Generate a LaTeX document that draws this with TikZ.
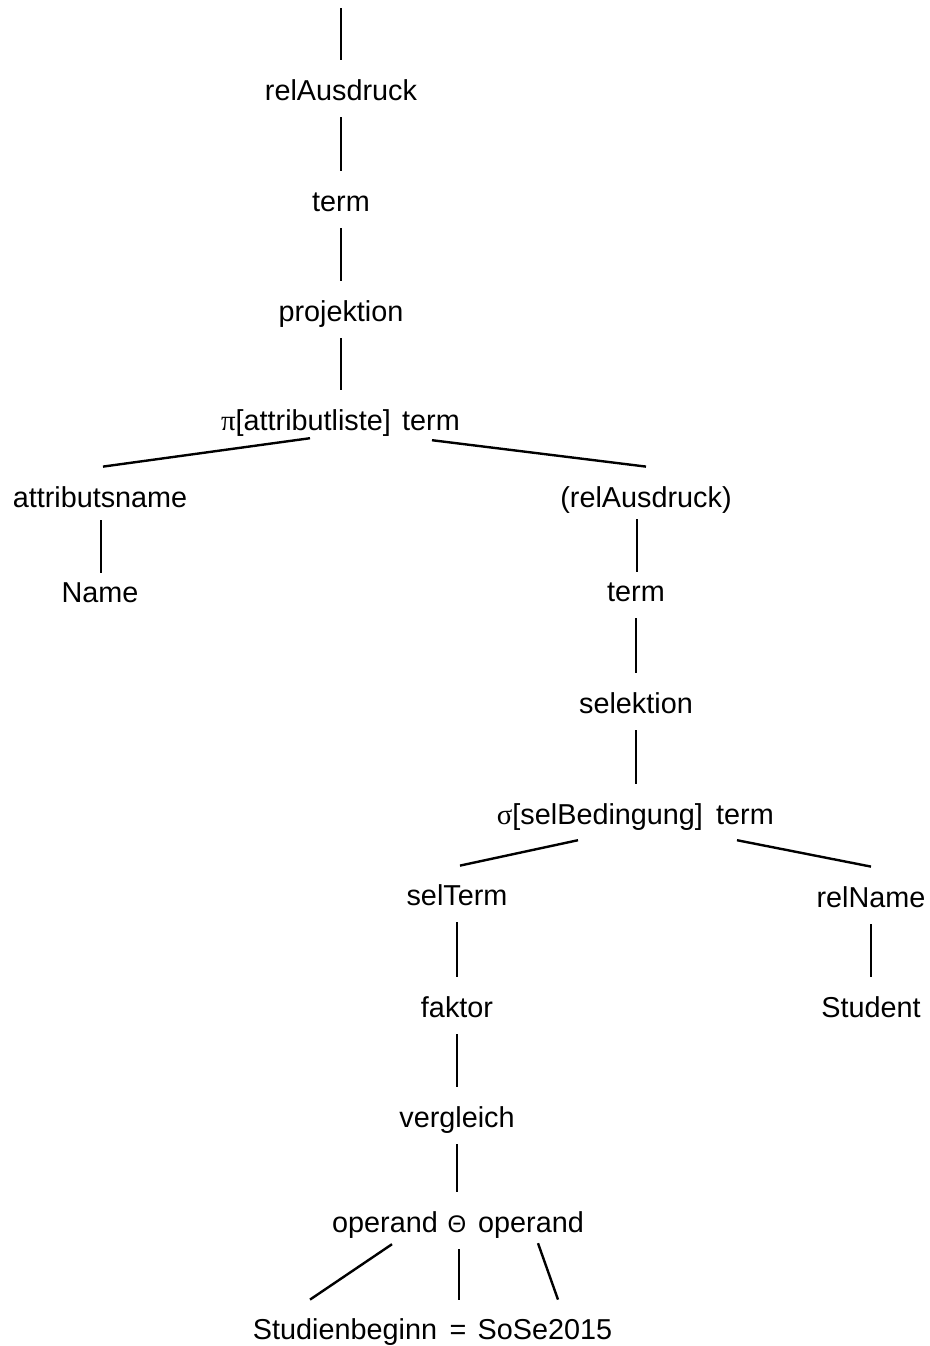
\documentclass[tikz,border=0pt]{standalone}
\usepackage{fontspec}
\setmainfont{Liberation Sans}
\newfontfamily\grk{Liberation Serif}
\usetikzlibrary{calc}
\begin{document}
\begin{tikzpicture}[x=0.5pt, y=-0.5pt,
  lbl/.style={font=\fontsize{14.4}{17}\selectfont, inner xsep=0pt, inner ysep=0pt, outer sep=0pt,
    text height=20.2pt, text depth=8.6pt, anchor=base},
  edge/.style={line width=1.2pt}]
  \useasboundingbox (0,0) rectangle (930,1346);
  % main chain
  \coordinate (root) at (341,8);
  \node[lbl] (ra) at (341,100) {relAusdruck};
  \node[lbl] (t1) at (341,211) {term};
  \node[lbl] (proj) at (341,321) {projektion};
  \node[lbl] (pilist) at (306,430) {{\grk π}[attributliste]};
  \node[lbl] (pterm) at (431,430) {term};
  \draw[edge] (root) -- (ra.north);
  \draw[edge] (ra.south) -- (t1.north);
  \draw[edge] (t1.south) -- (proj.north);
  \draw[edge] (proj.south) -- (proj.south |- pilist.north);
  % left branch
  \node[lbl] (attr) at (100,507) {attributsname};
  \node[lbl] (name) at (100,602) {Name};
  \draw[edge] ($(pilist.south)+(4,-9)$) -- ($(attr.north)+(3,0)$);
  \draw[edge] ($(attr.south)+(1,-4)$) -- ($(name.north)+(1,11)$);
  % right branch
  \node[lbl] (ra2) at (646,507) {(relAusdruck)};
  \node[lbl] (t2) at (636,601) {term};
  \node[lbl] (sel) at (636,713) {selektion};
  \node[lbl] (sig) at (600,824) {{\grk σ}[selBedingung]};
  \node[lbl] (sterm) at (745,824) {term};
  \draw[edge] ($(pterm.south)+(1,-7)$) -- (ra2.north);
  \draw[edge] ($(t2.north |- ra2.south)+(1,-5)$) -- ($(t2.north)+(1,11)$);
  \draw[edge] (t2.south) -- (sel.north);
  \draw[edge] (sel.south) -- (sel.south |- sig.north);
  % selection condition
  \node[lbl] (selt) at (457,905) {selTerm};
  \node[lbl] (fak) at (457,1017) {faktor};
  \node[lbl] (verg) at (457,1127) {vergleich};
  \draw[edge] ($(sig.south)+(-22,-1)$) -- ($(selt.north)+(3,1)$);
  \draw[edge] (selt.south) -- (fak.north);
  \draw[edge] (fak.south) -- (verg.north);
  % relation name
  \node[lbl] (reln) at (871,907) {relName};
  \node[lbl] (stud) at (871,1017) {Student};
  \draw[edge] ($(sterm.south)+(-8,-1)$) -- (reln.north);
  \draw[edge] (reln.south) -- (stud.north);
  % comparison
  \node[lbl] (op1) at (385,1232) {operand};
  \node[lbl] (theta) at (457,1232) {\fontsize{12}{14}\selectfont Θ};
  \node[lbl] (op2) at (531,1232) {operand};
  \draw[edge] (verg.south) -- (verg.south |- theta.north);
  \node[lbl] (sb) at (345,1339) {Studienbeginn};
  \node[lbl] (eq) at (458,1339) {=};
  \node[lbl] (sose) at (545,1339) {SoSe2015};
  \draw[edge] ($(op1.south)+(7,-5)$) -- ($(sb.north)+(-35,1)$);
  \draw[edge] ($(theta.south)+(2,0)$) -- ($(eq.north)+(1,1)$);
  \draw[edge] ($(op2.south)+(7,-6)$) -- ($(sose.north)+(13,1)$);
\end{tikzpicture}
\end{document}
